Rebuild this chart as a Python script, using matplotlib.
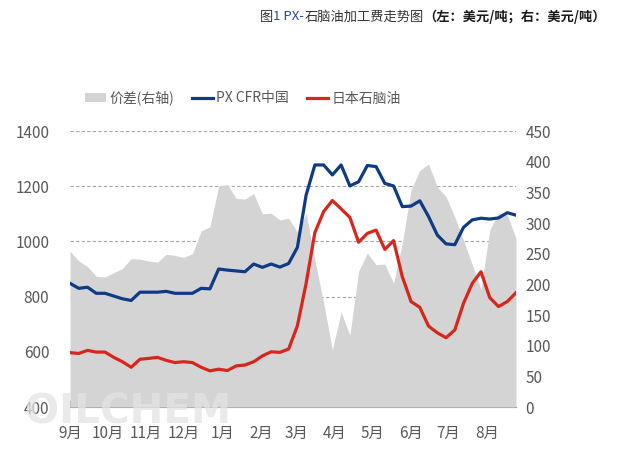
import matplotlib
matplotlib.use("Agg")
import matplotlib.pyplot as plt
import matplotlib.dates as mdates
from matplotlib.patches import Patch
from matplotlib.lines import Line2D
from matplotlib.ticker import FuncFormatter
from matplotlib.transforms import IdentityTransform
import pandas as pd

plt.rcParams['font.family'] = ['Noto Sans CJK SC', 'DejaVu Sans']

# weekly data, Sep 2021 - Aug 2022
weeks = pd.date_range("2021-09-01", periods=52, freq="7D")

px_cfr = [848, 830, 834, 812, 812, 802, 792, 786, 816, 816,
          816, 819, 812, 812, 812, 830, 828, 900, 896, 893,
          890, 918, 906, 918, 907, 920, 978, 1168, 1277, 1277,
          1241, 1277, 1201, 1216, 1275, 1271, 1210, 1201, 1126, 1128,
          1147, 1090, 1023, 991, 988, 1051, 1078, 1084, 1081, 1085,
          1104, 1095]

naphtha = [597, 594, 605, 599, 599, 580, 564, 544, 573, 576,
           580, 569, 561, 564, 561, 544, 531, 537, 532, 549,
           552, 564, 585, 600, 598, 610, 694, 848, 1032, 1108,
           1148, 1118, 1087, 997, 1029, 1041, 971, 1003, 872, 782,
           761, 693, 669, 651, 679, 776, 848, 890, 796, 764,
           782, 814]

spread = [254, 238, 229, 213, 212, 219, 226, 242, 241, 238,
          236, 249, 247, 244, 250, 287, 294, 360, 363, 340,
          339, 348, 315, 316, 305, 308, 285, 316, 240, 170,
          93, 155, 117, 221, 251, 232, 233, 202, 267, 354,
          386, 396, 359, 343, 310, 272, 232, 192, 289, 316,
          313, 275]

left_ticks = [400, 600, 800, 1000, 1200, 1400]
right_ticks = list(range(0, 451, 50))

GRAY = "#d4d4d4"
BLUE = "#0f3a86"
RED = "#d9261c"
TXT = "#595959"

fig = plt.figure(figsize=(6.2, 4.54), dpi=100)
rect = [70 / 620, 47 / 454, 446 / 620, 276 / 454]
ax_grid = fig.add_axes(rect)
ax_fill = fig.add_axes(rect, sharex=ax_grid)
ax = fig.add_axes(rect, sharex=ax_grid)
ax_grid.set_zorder(1)
ax_fill.set_zorder(2)
ax.set_zorder(3)

# bottom layer: grid, left labels, x axis
ax_grid.set_ylim(400, 1400)
ax_grid.set_yticks(left_ticks)
ax_grid.grid(axis="y", linestyle=(0, (3, 2)), color="#a6a6a6", linewidth=0.8)
for s in ["left", "right", "top"]:
    ax_grid.spines[s].set_visible(False)
ax_grid.spines["bottom"].set_color("#8c8c8c")
ax_grid.tick_params(axis="y", length=0, pad=15, labelsize=11, labelcolor=TXT)
ax_grid.xaxis.set_major_locator(mdates.MonthLocator())
ax_grid.xaxis.set_major_formatter(FuncFormatter(lambda v, p: f"{mdates.num2date(v).month}月"))
ax_grid.tick_params(axis="x", direction="in", length=5, color="#8c8c8c",
                    pad=13, labelsize=11, labelcolor=TXT)
ax_grid.set_xlim(weeks[0], weeks[-1])

# middle layer: spread area on right axis
ax_fill.fill_between(weeks, spread, 0, color=GRAY, linewidth=0)
ax_fill.set_ylim(0, 450)
ax_fill.set_yticks(right_ticks)
ax_fill.yaxis.tick_right()
ax_fill.tick_params(axis="y", length=0, pad=7, labelsize=11, labelcolor=TXT)
ax_fill.tick_params(axis="x", bottom=False, labelbottom=False)
ax_fill.patch.set_visible(False)
for s in ax_fill.spines.values():
    s.set_visible(False)

# top layer: price lines on left axis
ax.plot(weeks, px_cfr, color=BLUE, linewidth=2.3)
ax.plot(weeks, naphtha, color=RED, linewidth=2.3)
ax.set_ylim(400, 1400)
ax.axis("off")
ax.set_xlim(weeks[0], weeks[-1])

handles = [Patch(facecolor=GRAY, edgecolor="none"),
           Line2D([0], [0], color=BLUE, linewidth=2.3),
           Line2D([0], [0], color=RED, linewidth=2.3)]
labels = ["价差(右轴)", "PX CFR中国", "日本石脑油"]
fig.legend(handles, labels, loc="center", bbox_to_anchor=(243 / 620, 1 - 98 / 454),
           ncol=3, frameon=False, fontsize=10, handlelength=1.5, handletextpad=0.25,
           columnspacing=1.3, labelcolor=TXT)

# title made of pieces, right aligned
renderer = fig.canvas.get_renderer()
pieces = [("图", "#333333", "normal"),
          ("1 PX-", "#2b4b8c", "normal"),
          ("石脑油加工费走势图", "#333333", "normal"),
          ("（左：美元/吨；右：美元/吨）", "#1a1a1a", "bold")]
x = 606
for s, c, w in reversed(pieces):
    t = fig.text(x, 454 - 17, s, transform=IdentityTransform(), ha="right", va="center",
                 color=c, fontweight=w, fontsize=9.5)
    x = t.get_window_extent(renderer).x0

# faint watermark
fig.text(25, 454 - 423, "OILCHEM", transform=IdentityTransform(), fontsize=29,
         fontweight="bold", family="DejaVu Sans", color="#e4e4e4", alpha=0.75, zorder=10)

fig.savefig("out.png", dpi=100)
